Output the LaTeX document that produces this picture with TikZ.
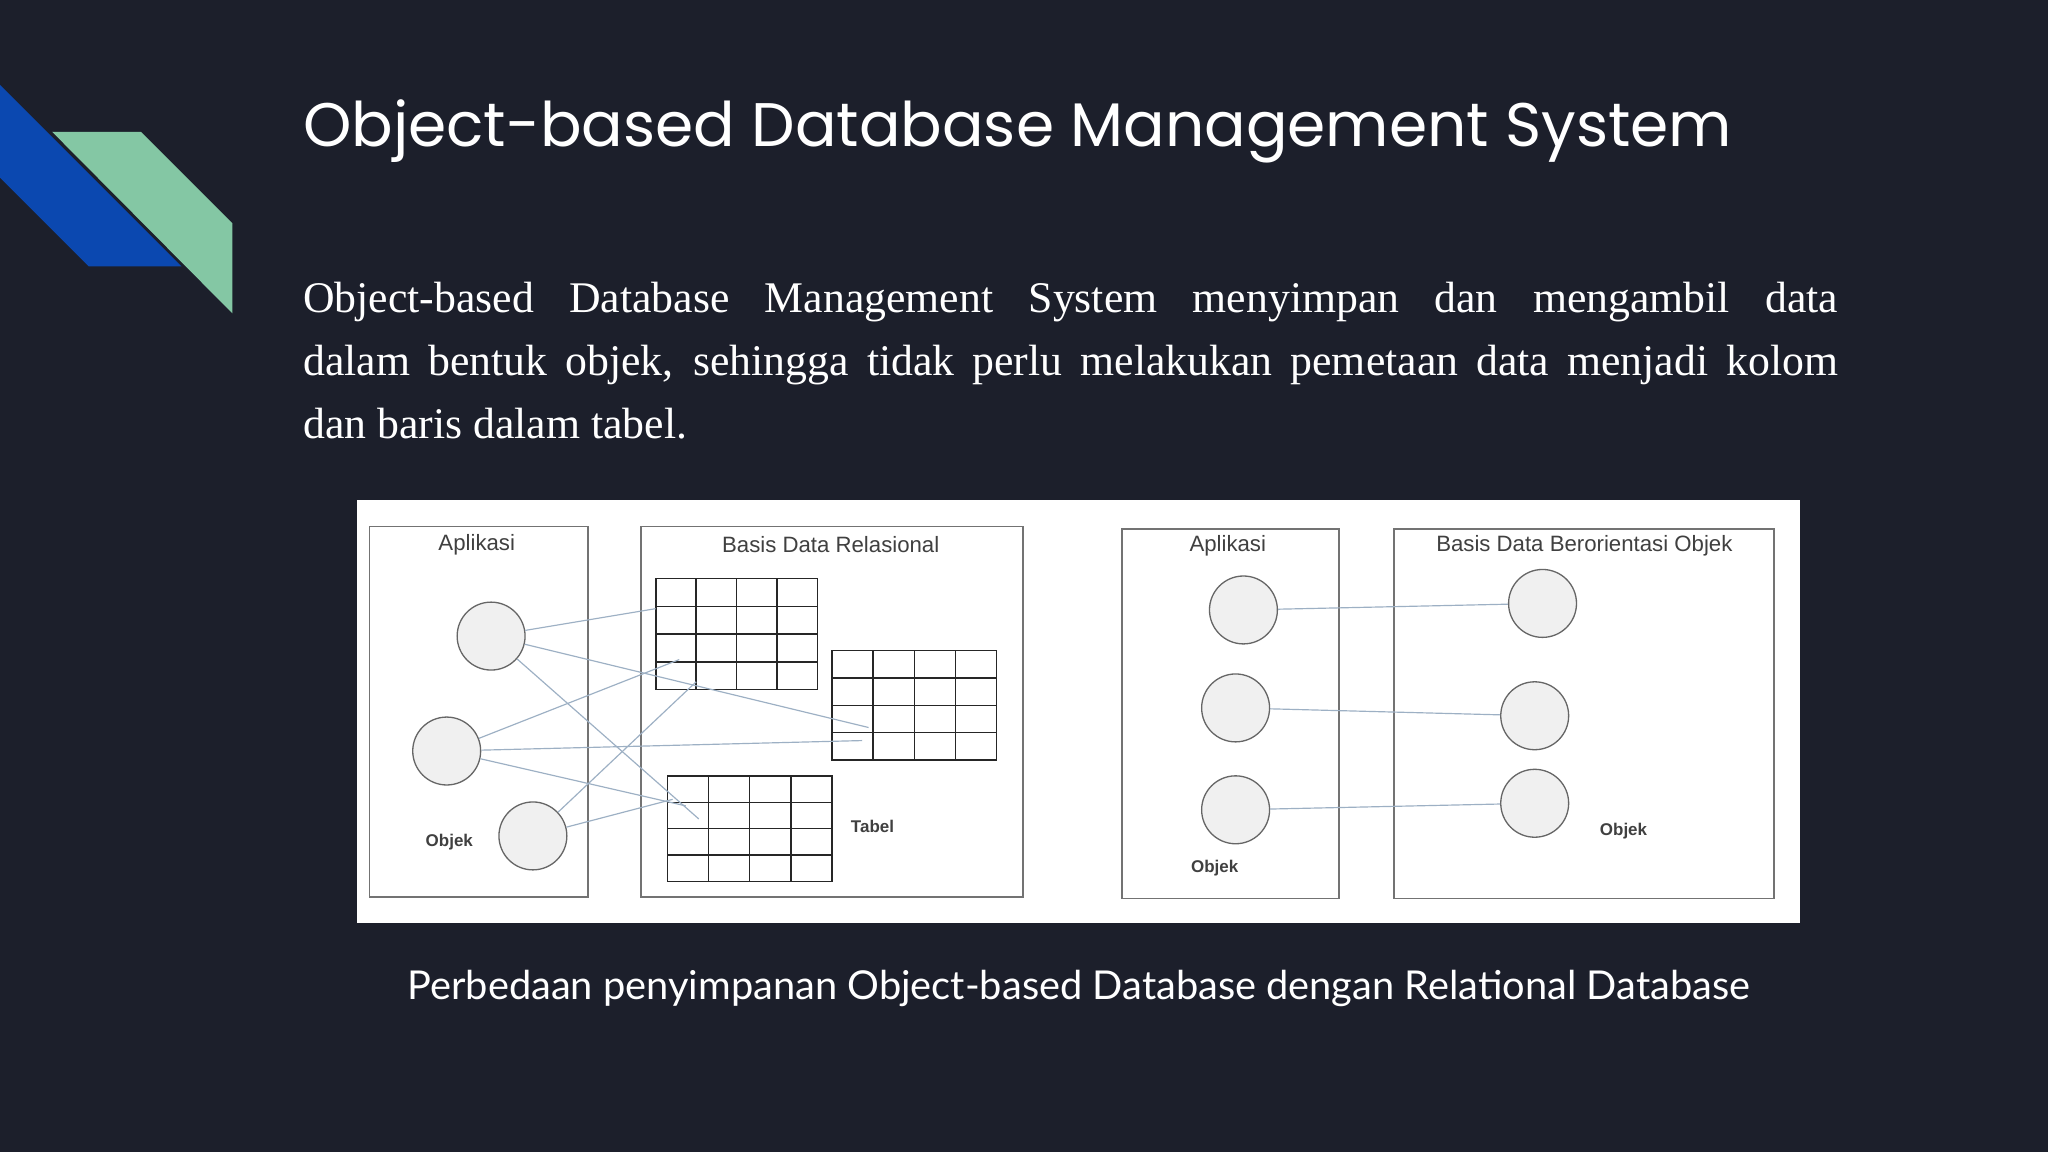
\documentclass[tikz,border=0pt]{standalone}
\usepackage{fontspec}
\setmainfont{Liberation Serif}
\newfontfamily\titlefont{Poppins}
\newfontfamily\capfont{Lato}
\newfontfamily\diafont{Liberation Sans}
\definecolor{bg}{HTML}{1C1F2B}
\definecolor{blu}{HTML}{0B48B0}
\definecolor{grn}{HTML}{84C7A4}
\definecolor{lnk}{HTML}{9DB0C4}
\begin{document}
\begin{tikzpicture}[x=1pt,y=-1pt,
  frame/.style={draw=black!55,line width=1.3pt},
  obj/.style={circle,draw=black!60,fill=black!6,line width=1pt,minimum size=52pt,inner sep=0pt},
  link/.style={draw=lnk,line width=0.9pt},
  lab/.style={font=\diafont\fontsize{17}{17}\selectfont,text=black!75},
  small/.style={font=\diafont\bfseries\fontsize{13}{13}\selectfont,text=black!75}]
\fill[bg] (0,0) rectangle (1568,882);
\useasboundingbox (0,0) rectangle (1568,882);
\fill[blu] (0,65) -- (139,204) -- (68,204) -- (0,136) -- cycle;
\fill[grn] (40,101) -- (108,101) -- (178,171) -- (178,240) -- cycle;
\node[anchor=base west,inner sep=0,text=white] (title) at (232,112)
  {\resizebox{1094pt}{!}{\titlefont\fontsize{44}{44}\selectfont Object-based Database Management System}};
\node[anchor=north west,inner sep=0,text=white] (para) at (232,216)
  {\parbox{1175pt}{\fontsize{33.5}{48}\selectfont Object-based Database Management System menyimpan dan mengambil data\linebreak dalam bentuk objek, sehingga tidak perlu melakukan pemetaan data menjadi kolom\linebreak dan baris dalam tabel.}};
\fill[white] (273,383) rectangle (1378,707);
\node[anchor=base,inner sep=0,text=white] (cap) at (826,765)
  {\resizebox{1028pt}{!}{\capfont\fontsize{30}{30}\selectfont Perbedaan penyimpanan Object-based Database dengan Relational Database}};
% left diagram
\draw[frame] (283,403) rectangle (450,687);
\draw[frame] (491,403) rectangle (783,687);
\node[lab] (la) at (365,417) {Aplikasi};
\node[lab] (lb) at (636,417) {Basis Data Relasional};
\foreach \n/\a/\b/\c/\d in {t1/502/443/626/528, t2/637/498/763/582, t3/511/594/637/675}{
  \draw[black!85,line width=1.3pt] (\a,\b) rectangle (\c,\d);
  \foreach \i in {1,2,3}{
    \draw[black!85,line width=1.1pt] ({\a+\i*(\c-\a)/4},\b) -- ({\a+\i*(\c-\a)/4},\d);
    \draw[black!85,line width=1.1pt] (\a,{\b+\i*(\d-\b)/4}) -- (\c,{\b+\i*(\d-\b)/4});
  }
}
\coordinate (p1) at (502,466);
\coordinate (p2) at (665,557);
\coordinate (p3) at (535,627);
\coordinate (p4) at (520,505);
\coordinate (p5) at (660,567);
\coordinate (p6) at (525,617);
\coordinate (p7) at (533,522);
\coordinate (p8) at (515,612);
\node[obj] (c1) at (376,487) {};
\node[obj] (c2) at (342,575) {};
\node[obj] (c3) at (408,640) {};
\draw[link] (c1) -- (p1); \draw[link] (c1) -- (p2); \draw[link] (c1) -- (p3);
\draw[link] (c2) -- (p4); \draw[link] (c2) -- (p5); \draw[link] (c2) -- (p6);
\draw[link] (c3) -- (p7); \draw[link] (c3) -- (p8);
\node[small] (ob1) at (344,645) {Objek};
\node[small] (tb) at (668,633) {Tabel};
% right diagram
\draw[frame] (859,405) rectangle (1025,688);
\draw[frame] (1067,405) rectangle (1358,688);
\node[lab] (ra) at (940,418) {Aplikasi};
\node[lab] (rb) at (1213,418) {Basis Data Berorientasi Objek};
\node[obj] (a1) at (952,467) {};
\node[obj] (a2) at (946,542) {};
\node[obj] (a3) at (946,620) {};
\node[obj] (b1) at (1181,462) {};
\node[obj] (b2) at (1175,548) {};
\node[obj] (b3) at (1175,615) {};
\draw[link] (a1) -- (b1); \draw[link] (a2) -- (b2); \draw[link] (a3) -- (b3);
\node[small] (ob2) at (930,665) {Objek};
\node[small] (ob3) at (1243,636) {Objek};
\end{tikzpicture}
\end{document}
